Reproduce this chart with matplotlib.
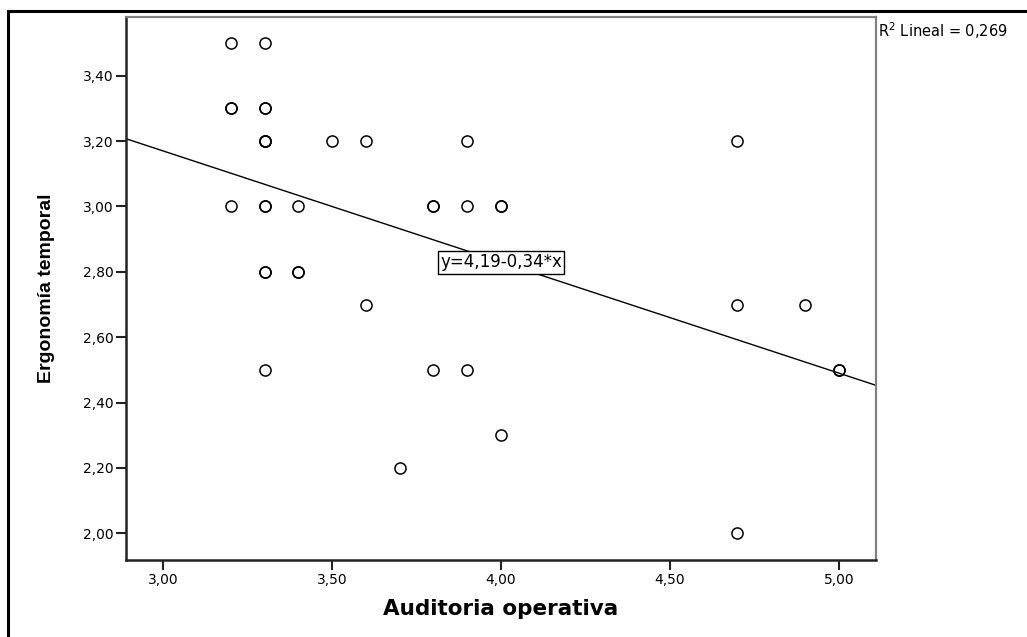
import numpy as np
import matplotlib.pyplot as plt
from matplotlib.lines import Line2D

# data (repeated pairs = overlapping points)
auditoria = [3.2, 3.2, 3.2, 3.2,
             3.3, 3.3, 3.3, 3.3, 3.3, 3.3, 3.3, 3.3, 3.3, 3.3, 3.3,
             3.4, 3.4, 3.4,
             3.5, 3.6, 3.6, 3.7,
             3.8, 3.8, 3.8,
             3.9, 3.9, 3.9,
             4.0, 4.0, 4.0,
             4.7, 4.7, 4.7, 4.9, 5.0, 5.0]
ergonomia = [3.5, 3.3, 3.3, 3.0,
             3.5, 3.3, 3.3, 3.2, 3.2, 3.2, 3.0, 3.0, 2.8, 2.8, 2.5,
             3.0, 2.8, 2.8,
             3.2, 3.2, 2.7, 2.2,
             3.0, 3.0, 2.5,
             3.2, 3.0, 2.5,
             3.0, 3.0, 2.3,
             3.2, 2.7, 2.0, 2.7, 2.5, 2.5]
intercept = 4.19
slope = -0.34
r2 = 0.269
xticks = [3.0, 3.5, 4.0, 4.5, 5.0]
yticks = [2.0, 2.2, 2.4, 2.6, 2.8, 3.0, 3.2, 3.4]

plt.rcParams['font.family'] = ['DejaVu Sans']
fig = plt.figure(figsize=(10.27, 6.37), dpi=100)
ax = fig.add_axes([126/1027, 1-560/637, 750/1027, 543/637])

ax.plot(auditoria, ergonomia, 'o', mfc='none', mec='black', ms=8, mew=1.1, zorder=3)

xl = (2.89, 5.11)
ax.set_xlim(xl)
ax.set_ylim(1.918, 3.58)
xs = np.array(xl)
ax.plot(xs, intercept + slope*xs, color='black', lw=1, zorder=2)

ax.text(4.0, intercept + slope*4.0, 'y=4,19-0,34*x', fontsize=12, ha='center', va='center',
        bbox=dict(boxstyle='square,pad=0.15', fc='white', ec='black', lw=1), zorder=4)

ax.set_xticks(xticks)
ax.set_xticklabels([('%.2f' % v).replace('.', ',') for v in xticks])
ax.set_yticks(yticks)
ax.set_yticklabels([('%.2f' % v).replace('.', ',') for v in yticks])
ax.tick_params(direction='out', length=7, width=1.5, labelsize=10, pad=2, colors='#222222',
               labelcolor='black')

for s in ['left', 'bottom']:
    ax.spines[s].set_linewidth(1.8)
    ax.spines[s].set_color('#222222')
for s in ['top', 'right']:
    ax.spines[s].set_linewidth(1.6)
    ax.spines[s].set_color('#808080')

ax.set_xlabel('Auditoria operativa', fontsize=15.5, fontweight='bold', labelpad=9)
ax.set_ylabel('Ergonomía temporal', fontsize=14, fontweight='bold', labelpad=20,
              family=['Liberation Sans Narrow', 'Liberation Sans'])

fig.text(878/1027, 1-31/637, 'R$^2$ Lineal = 0,269', fontsize=10.5, va='center', ha='left')

# outer frame of the exported picture
fig.add_artist(Line2D([8/1027, 1], [1-11/637, 1-11/637], color='black', lw=2.2, transform=fig.transFigure))
fig.add_artist(Line2D([8/1027, 8/1027], [0, 1-11/637], color='black', lw=2.2, transform=fig.transFigure))

fig.savefig('out.png', dpi=100)
